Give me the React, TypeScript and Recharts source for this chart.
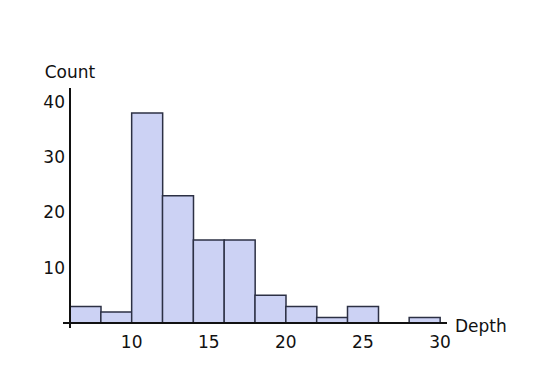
import React from 'react';
import { ComposedChart, Bar, XAxis, YAxis, ReferenceLine } from 'recharts';

const bins = ['6-8', '8-10', '10-12', '12-14', '14-16', '16-18', '18-20', '20-22', '22-24', '24-26', '26-28', '28-30'];
const binMids = [7, 9, 11, 13, 15, 17, 19, 21, 23, 25, 27, 29];
const counts = [3, 2, 38, 23, 15, 15, 5, 3, 1, 3, 0, 1];
const xTicks = [10, 15, 20, 25, 30];
const yTicks = [10, 20, 30, 40];

const data = bins.map((b, i) => ({ bin: b, mid: binMids[i], count: counts[i] }));

const FONT = '"DejaVu Sans", sans-serif';

export default function App() {
  return (
    <div style={{ position: 'absolute', left: 0, top: 0, background: '#fff' }}>
      <ComposedChart
        width={534}
        height={379}
        data={data}
        barCategoryGap={0}
        barGap={0}
        margin={{ top: 88, right: 87, bottom: 21, left: 23 }}
      >
        <XAxis xAxisId="cat" dataKey="bin" type="category" hide height={0} padding={{ left: 7, right: 7 }} />
        <XAxis
          xAxisId="num"
          dataKey="mid"
          type="number"
          domain={[6, 30]}
          ticks={xTicks}
          allowDataOverflow
          padding={{ left: 7, right: 7 }}
          axisLine={false}
          tickLine={false}
          tickSize={0}
          tickMargin={8}
          height={30}
          tick={{ fill: '#111', fontSize: 17, fontFamily: FONT }}
          label={{ value: 'Depth', position: 'right', offset: 8, dy: -17, fill: '#111', fontSize: 17, fontFamily: FONT }}
        />
        <YAxis
          type="number"
          domain={[0, 42.5]}
          ticks={yTicks}
          allowDataOverflow
          padding={{ bottom: 5 }}
          axisLine={false}
          tickLine={false}
          tickSize={0}
          tickMargin={0}
          width={40}
          tick={{ fill: '#111', fontSize: 17, fontFamily: FONT, dx: 2 }}
          label={{ value: 'Count', position: 'top', offset: 10, dx: 27, fill: '#111', fontSize: 17, fontFamily: FONT }}
        />
        <Bar
          xAxisId="cat"
          dataKey="count"
          fill="#ccd2f4"
          stroke="#2c3044"
          strokeWidth={1.5}
          isAnimationActive={false}
        />
        <ReferenceLine xAxisId="num" y={0} stroke="#111" strokeWidth={2} />
        <ReferenceLine xAxisId="num" x={6} stroke="#111" strokeWidth={2} />
      </ComposedChart>
    </div>
  );
}
